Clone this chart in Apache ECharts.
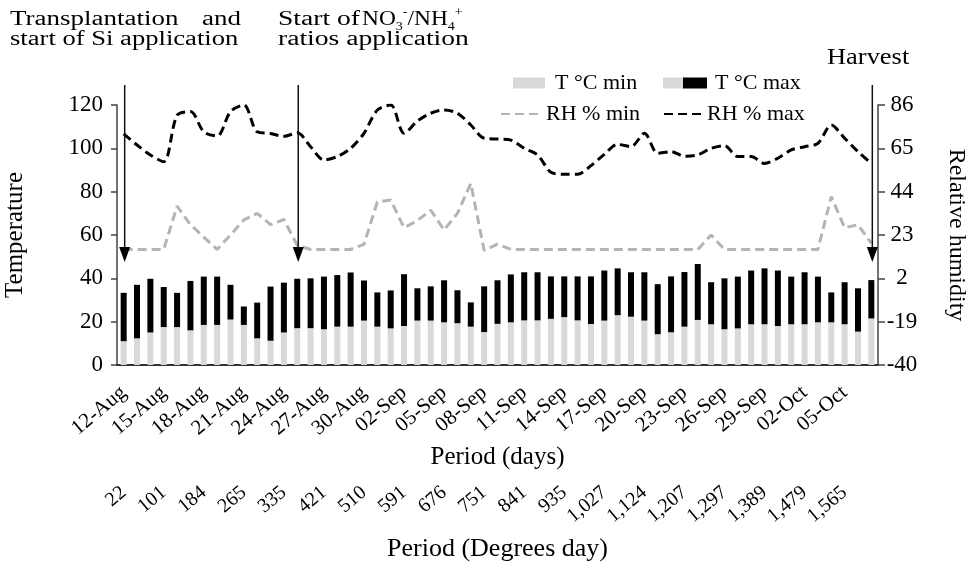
<!DOCTYPE html>
<html>
<head>
<meta charset="utf-8">
<script src="https://cdn.jsdelivr.net/npm/echarts@6/dist/echarts.min.js"></script>
<style>
  html, body { margin: 0; padding: 0; background: #fff; }
  #chart { width: 968px; height: 562px; }
</style>
</head>
<body>
<div id="chart"></div>
<script>
// ---- data ----
const dates = ['12-Aug','13-Aug','14-Aug','15-Aug','16-Aug','17-Aug','18-Aug','19-Aug','20-Aug','21-Aug',
  '22-Aug','23-Aug','24-Aug','25-Aug','26-Aug','27-Aug','28-Aug','29-Aug','30-Aug','31-Aug',
  '01-Sep','02-Sep','03-Sep','04-Sep','05-Sep','06-Sep','07-Sep','08-Sep','09-Sep','10-Sep',
  '11-Sep','12-Sep','13-Sep','14-Sep','15-Sep','16-Sep','17-Sep','18-Sep','19-Sep','20-Sep',
  '21-Sep','22-Sep','23-Sep','24-Sep','25-Sep','26-Sep','27-Sep','28-Sep','29-Sep','30-Sep',
  '01-Oct','02-Oct','03-Oct','04-Oct','05-Oct','06-Oct','07-Oct'];

const tMin = [11,12.3,15,17.5,17.5,16,18.5,18.5,21,18.5,12.3,11.2,15,17,
  17,16.5,17.7,17.7,20.5,17.7,16.9,18,20.5,20.5,19.7,19.3,17.7,15.2,
  19,19.7,20.6,20.6,21.3,22.1,20.6,18.9,20.5,23,22.3,20.5,14.2,15.1,17.7,20.8,
  18.8,16.5,16.9,18.8,18.8,18,18.8,18.8,19.7,19.7,18.8,15.4,21.5];

const tMax = [33.3,37,39.8,36,33.3,38.8,40.8,40.8,37,27,28.8,36.2,38,39.8,
  40,40.8,41.5,42.7,39,33.5,34.4,41.9,35.4,36.3,39.1,34.5,28.9,36.3,
  39.1,41.8,42.8,42.8,40.9,40.9,40.9,40.9,43.6,44.6,42.8,42.8,37.3,40.9,42.9,46.6,
  38.2,40,40.8,43.6,44.6,43.6,40.8,42.8,40.8,33.5,38.2,35.4,39.2];

const rhMin = [16,16,16,16,37,28,22,16,23,30.3,33.5,28,30.5,18,
  16,16,16,16,18.5,39,40,26.5,30,35,25.4,33.5,48,15.5,
  18.6,16,16,16,16,16,16,16,16,16,16,16,16,16,16,16,
  23,16,16,16,16,16,16,16,16,41.6,26.5,28,19];

const rhMax = [72,66.6,61.8,58.5,81,82.8,73,71,82.8,86,73,72.2,70.8,72.5,
  65.8,59.4,61,65,72.3,83.6,86,72.3,78.2,82,83.6,82,76.3,69.9,
  69.5,69,65,61.8,53.4,52.4,52.4,56.6,62.1,66.9,65.8,72.3,62.6,63.4,61.2,61.8,
  65,66.3,61,61,57.7,60.2,64.2,65.8,67.4,76.3,69.9,63.4,57.7];

const degreeDays = ['22','101','184','265','335','421','510','591','676','751',
  '841','935','1,027','1,124','1,207','1,297','1,389','1,479','1,565'];

const rhTicks = [-40,-19,2,23,44,65,86];

// events marked with arrows (category dates) and arrow tip level (temperature scale)
const eventDates = ['12-Aug','25-Aug','07-Oct'];
const arrowTipTemp = 47.5;

// ---- chart ----
const FONT = '"Liberation Serif", "Times New Roman", serif';
const chart = echarts.init(document.getElementById('chart'), null, {renderer: 'canvas'});

const tDiff = tMax.map((v, i) => +(v - tMin[i]).toFixed(2));

const legendBase = {
  padding: 0, selectedMode: false, itemGap: 0,
  textStyle: {fontFamily: FONT, fontSize: 22, color: '#000'}
};

const option = {
  animation: false,
  backgroundColor: '#fff',
  grid: {left: 117, right: 90, top: 105, bottom: 197, outerBoundsMode: 'none', containLabel: false},
  legend: [
    Object.assign({}, legendBase, {data: [{name: 'T °C min', icon: 'rect'}], left: 513, top: 72, itemWidth: 32, itemHeight: 11,
      textStyle: Object.assign({}, legendBase.textStyle, {padding: [0, 0, 0, 5]})}),
    Object.assign({}, legendBase, {data: [{name: 'T °C max', icon: 'rect'}], left: 683, top: 72, itemWidth: 24, itemHeight: 11,
      textStyle: Object.assign({}, legendBase.textStyle, {padding: [0, 0, 0, 3]})}),
    Object.assign({}, legendBase, {data: ['RH % min'], left: 500, top: 103, itemWidth: 40, itemHeight: 11,
      itemStyle: {opacity: 0}}),
    Object.assign({}, legendBase, {data: ['RH % max'], left: 663, top: 103, itemWidth: 38, itemHeight: 11,
      itemStyle: {opacity: 0}})
  ],
  xAxis: [
    {
      type: 'category', data: dates, position: 'bottom',
      axisLine: {show: true, lineStyle: {color: '#333', width: 2}},
      axisTick: {show: false},
      axisLabel: {interval: 2, rotate: 40, margin: 25, fontFamily: FONT, fontSize: 21, color: '#000'},
      name: 'Period (days)', nameLocation: 'middle', nameGap: 80,
      nameTextStyle: {fontFamily: FONT, fontSize: 25, color: '#000'}
    },
    {
      type: 'category', data: dates, position: 'bottom', offset: 110,
      axisLine: {show: false}, axisTick: {show: false},
      axisLabel: {interval: 2, rotate: 40, margin: 15, fontFamily: FONT, fontSize: 20, color: '#000',
        formatter: (v, idx) => degreeDays[Math.round(idx / 3)] || ''},
      name: 'Period (Degrees day)', nameLocation: 'middle', nameGap: 61,
      nameTextStyle: {fontFamily: FONT, fontSize: 26, color: '#000'}
    }
  ],
  yAxis: [
    {
      type: 'value', min: 0, max: 120, interval: 20, position: 'left',
      axisLine: {show: true, lineStyle: {color: '#444', width: 1.5}},
      axisTick: {show: true, inside: false, length: 6, lineStyle: {color: '#444', width: 1.5}},
      splitLine: {show: false},
      axisLabel: {margin: 14, fontFamily: FONT, fontSize: 23, color: '#000'},
      name: 'Temperature', nameLocation: 'middle', nameGap: 89,
      nameTextStyle: {fontFamily: FONT, fontSize: 25, color: '#000'}
    },
    {
      type: 'value', min: -40, max: 86, position: 'right',
      axisLine: {show: true, lineStyle: {color: '#444', width: 1.5}},
      axisTick: {show: true, inside: false, length: 7, customValues: rhTicks, lineStyle: {color: '#444', width: 1.5}},
      splitLine: {show: false},
      axisLabel: {customValues: rhTicks, margin: 24, align: 'center', fontFamily: FONT, fontSize: 23, color: '#000'},
      name: 'Relative humidity', nameLocation: 'middle', nameGap: 66, nameRotate: -90,
      nameTextStyle: {fontFamily: FONT, fontSize: 24, color: '#000'}
    }
  ],
  series: [
    {
      name: 'T °C min', type: 'bar', stack: 't', data: tMin, barWidth: 6,
      itemStyle: {color: '#d9d9d9'}, xAxisIndex: 0, yAxisIndex: 0
    },
    {
      name: 'T °C max', type: 'bar', stack: 't', data: tDiff, barWidth: 6,
      itemStyle: {color: '#000'}, xAxisIndex: 0, yAxisIndex: 0
    },
    {
      name: 'RH % min', type: 'line', data: rhMin, yAxisIndex: 1, xAxisIndex: 0,
      symbol: 'none', smooth: false,
      lineStyle: {color: '#b4b4b4', width: 3, type: [9, 5]}, itemStyle: {color: '#b4b4b4'}
    },
    {
      name: 'RH % max', type: 'line', data: rhMax, yAxisIndex: 1, xAxisIndex: 0,
      symbol: 'none', smooth: 0.3,
      lineStyle: {color: '#000', width: 3, type: [9, 5]}, itemStyle: {color: '#000'}
    }
  ]
};

chart.setOption(option);

// ---- annotations (arrows and texts) ----
const graphics = [];
const txt = (text, x, y, size, sx) => ({
  type: 'text', x: x, y: y, scaleX: sx, z: 100,
  style: {text: text, fontFamily: FONT, fontSize: size, fill: '#000', verticalAlign: 'middle', align: 'left'}
});
graphics.push(txt('Transplantation', 10, 20, 20, 1.35));
graphics.push(txt('and', 202, 20, 20, 1.35));
graphics.push(txt('start of Si application', 10, 40, 20, 1.33));
graphics.push(txt('Start of ', 278, 20, 20, 1.38));
graphics.push({
  type: 'text', x: 362, y: 20, scaleX: 1.17, z: 100,
  style: {
    text: '{n|NO}{sub|3}{sup|-}{n|/NH}{sub|4}{sup|+}',
    verticalAlign: 'middle', align: 'left', fill: '#000',
    rich: {
      n: {fontFamily: FONT, fontSize: 20, lineHeight: 26, verticalAlign: 'middle', fill: '#000'},
      sub: {fontFamily: FONT, fontSize: 12, lineHeight: 26, verticalAlign: 'bottom', fill: '#000'},
      sup: {fontFamily: FONT, fontSize: 12, lineHeight: 26, verticalAlign: 'top', fill: '#000'}
    }
  }
});
graphics.push(txt('ratios application', 278, 40, 20, 1.38));
graphics.push(txt('Harvest', 827, 57.5, 23, 1.15));

// grey part of the "T °C max" legend key
graphics.push({type: 'rect', shape: {x: 663, y: 77.5, width: 20, height: 11}, style: {fill: '#d9d9d9'}, z: 100});

const yTip = chart.convertToPixel({yAxisIndex: 0}, arrowTipTemp);
eventDates.forEach(d => {
  const x = chart.convertToPixel({xAxisIndex: 0}, d) + 1;
  graphics.push({
    type: 'line', z: 100,
    shape: {x1: x, y1: 85, x2: x, y2: yTip - 12},
    style: {stroke: '#111', lineWidth: 1.5}
  });
  graphics.push({
    type: 'polygon', z: 100,
    shape: {points: [[x - 5.5, yTip - 15], [x + 5.5, yTip - 15], [x, yTip]]},
    style: {fill: '#000'}
  });
});

chart.setOption({graphic: graphics});
</script>
</body>
</html>
